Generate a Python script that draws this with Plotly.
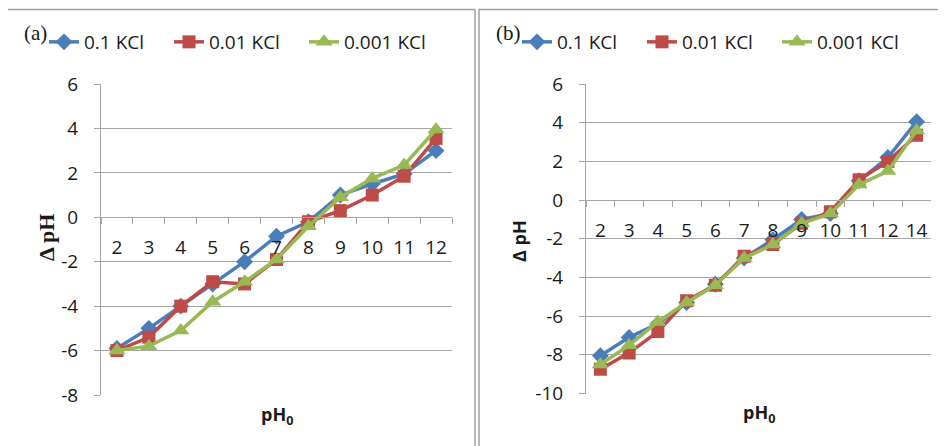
import plotly.graph_objects as go

W, H = 946, 446

# ---------------- data ----------------
series_names = ["0.1 KCl", "0.01 KCl", "0.001 KCl"]

cats_a = ["2", "3", "4", "5", "6", "7", "8", "9", "10", "11", "12"]
a_01 = [-5.9, -5.0, -4.0, -3.0, -2.0, -0.85, -0.2, 1.0, 1.5, 1.95, 3.0]
a_001 = [-6.0, -5.4, -4.0, -2.9, -3.0, -1.9, -0.2, 0.3, 1.0, 1.85, 3.55]
a_0001 = [-6.0, -5.8, -5.1, -3.8, -2.9, -1.9, -0.4, 0.9, 1.75, 2.35, 3.95]

cats_b = ["2", "3", "4", "5", "6", "7", "8", "9", "10", "11", "12", "14"]
b_01 = [-8.05, -7.1, -6.4, -5.3, -4.35, -3.0, -2.05, -1.0, -0.7, 1.0, 2.2, 4.05]
b_001 = [-8.75, -7.9, -6.8, -5.2, -4.4, -2.9, -2.3, -1.2, -0.6, 1.05, 2.0, 3.35]
b_0001 = [-8.5, -7.5, -6.3, -5.3, -4.4, -3.0, -2.3, -1.2, -0.7, 0.8, 1.5, 3.6]

yticks_a = [-8, -6, -4, -2, 0, 2, 4, 6]
yticklabels_a = ["-8", "-6", "-4", "-2", "0", "2", "4", "6"]
yticks_b = [-10, -8, -6, -4, -2, 0, 2, 4, 6]
yticklabels_b = ["-10", "-8", "-6", "-4", "-2", "0", "2", "4", "6"]

colors = ["#4A7EBB", "#BE4B48", "#98B954"]
symbols = ["diamond", "square", "triangle-up"]
msizes = [13, 13, 15]
legend_widths = [80, 90, 90]

# ---------------- layout geometry (screen px -> paper) ----------------
OFF = 8  # page body margin

def fx(px):
    return (px - OFF) / W

def fy(py):
    return 1 - (py - OFF) / H

xa_dom = [fx(101), fx(452)]
xb_dom = [fx(586), fx(931)]
ya_dom = [fy(395), fy(84)]
yb_dom = [fy(393.5), fy(84)]

def zero_pos(dom, rng):
    return dom[0] + (0 - rng[0]) / (rng[1] - rng[0]) * (dom[1] - dom[0])

ya_rng = [-8, 6]
yb_rng = [-10, 6]
xa_rng = [-0.5, len(cats_a) - 0.5]
xb_rng = [-0.5, len(cats_b) - 0.5]

SANS = "Open Sans"
SERIF = "Liberation Serif"
grid = "#A6A6A6"
txt = "#1a1a1a"
tickfont = dict(family=SANS, size=19, color=txt)

fig = go.Figure()

for vals, name, c, s, ms, lw in zip([a_01, a_001, a_0001], series_names, colors, symbols, msizes, legend_widths):
    fig.add_trace(go.Scatter(x=cats_a, y=vals, name=name, mode="lines+markers",
                             line=dict(color=c, width=3.5),
                             marker=dict(symbol=s, size=ms, color=c, line=dict(width=0)),
                             xaxis="x", yaxis="y", legend="legend", legendwidth=lw))
for vals, name, c, s, ms, lw in zip([b_01, b_001, b_0001], series_names, colors, symbols, msizes, legend_widths):
    fig.add_trace(go.Scatter(x=cats_b, y=vals, name=name, mode="lines+markers",
                             line=dict(color=c, width=3.5),
                             marker=dict(symbol=s, size=ms, color=c, line=dict(width=0)),
                             xaxis="x2", yaxis="y2", legend="legend2", legendwidth=lw))

xcommon = dict(type="category", tickson="boundaries", ticks="outside", ticklen=6,
               tickcolor=grid, showline=True, linecolor=grid, linewidth=1, tickangle=0,
               showgrid=False, zeroline=False, tickfont=tickfont, ticklabelstandoff=13,
               anchor="free", automargin=False)
ycommon = dict(ticks="outside", ticklen=6, tickcolor=grid, showline=True, linecolor=grid,
               linewidth=1, showgrid=True, gridcolor=grid, gridwidth=1, zeroline=False,
               tickfont=tickfont, ticklabelstandoff=12, automargin=False)

fig.update_layout(
    width=W, height=H,
    margin=dict(l=0, r=0, t=0, b=0),
    paper_bgcolor="white", plot_bgcolor="white",
    showlegend=True,
    xaxis=dict(domain=xa_dom, range=xa_rng, position=zero_pos(ya_dom, ya_rng), **xcommon),
    xaxis2=dict(domain=xb_dom, range=xb_rng, position=zero_pos(yb_dom, yb_rng), **xcommon),
    yaxis=dict(domain=ya_dom, range=ya_rng, tickvals=yticks_a, ticktext=yticklabels_a,
               anchor="x", **ycommon),
    yaxis2=dict(domain=yb_dom, range=yb_rng, tickvals=yticks_b, ticktext=yticklabels_b,
                anchor="x2", **ycommon),
    legend=dict(orientation="h", x=fx(44), y=fy(42), xanchor="left", yanchor="middle",
                font=dict(family=SANS, size=19, color=txt), bgcolor="rgba(0,0,0,0)"),
    legend2=dict(orientation="h", x=fx(517), y=fy(42), xanchor="left", yanchor="middle",
                 font=dict(family=SANS, size=19, color=txt), bgcolor="rgba(0,0,0,0)"),
)

# panel borders
fig.add_shape(type="rect", xref="paper", yref="paper", x0=fx(7), x1=fx(475), y0=-0.05, y1=fy(9.5),
              line=dict(color="#A0A0A0", width=1.5), fillcolor="rgba(0,0,0,0)", layer="below")
fig.add_shape(type="rect", xref="paper", yref="paper", x0=fx(479), x1=1.05, y0=-0.05, y1=fy(9.5),
              line=dict(color="#A0A0A0", width=1.5), fillcolor="rgba(0,0,0,0)", layer="below")

def note(text, x, y, font, angle=0):
    fig.add_annotation(text=text, xref="paper", yref="paper", x=fx(x), y=fy(y),
                       xanchor="center", yanchor="middle", textangle=angle,
                       showarrow=False, font=font)

# panel labels
note("(a)", 35, 33, dict(family=SERIF, size=21, color=txt))
note("(b)", 508, 33, dict(family=SERIF, size=21, color=txt))

# axis titles
note("<b>Δ pH</b>", 46, 238, dict(family=SERIF, size=22, color=txt), -90)
note("<b>Δ pH</b>", 519, 241, dict(family=SANS, size=18, color=txt), -90)
note("<b>pH<sub>0</sub></b>", 277, 415, dict(family=SANS, size=18, color=txt))
note("<b>pH<sub>0</sub></b>", 759, 413, dict(family=SANS, size=18, color=txt))

fig.write_html("out.html")
